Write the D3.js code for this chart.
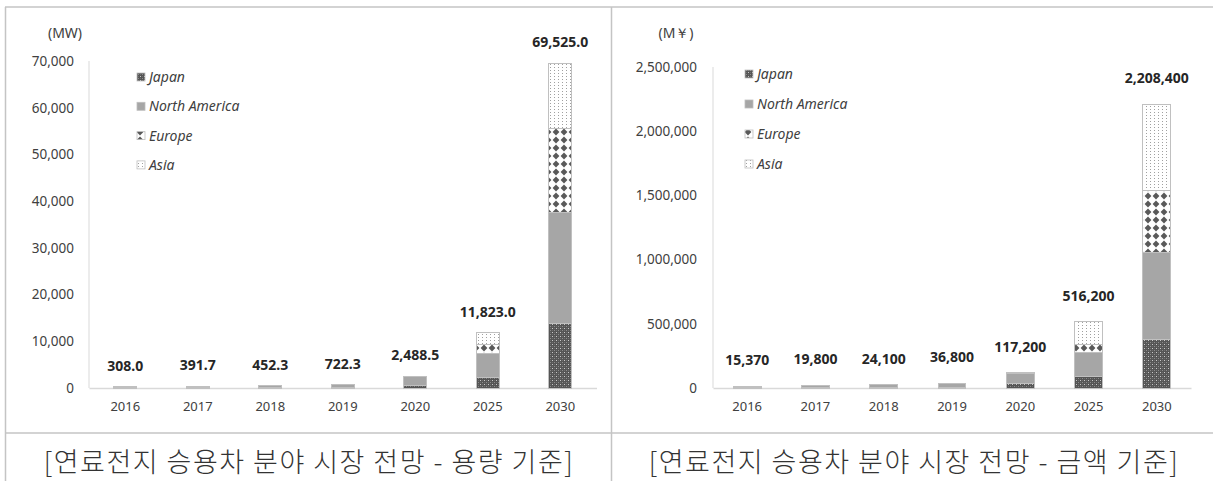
<!DOCTYPE html>
<html>
<head>
<meta charset="utf-8">
<script src="https://cdn.jsdelivr.net/npm/d3@7"></script>
<style>
  html, body { margin: 0; padding: 0; background: #fff; }
  svg { display: block; }
</style>
</head>
<body>
<svg id="chart" width="1213" height="481"></svg>
<script>
// ---------- DATA ----------
const years = ["2016", "2017", "2018", "2019", "2020", "2025", "2030"];
const seriesNames = ["Japan", "North America", "Europe", "Asia"];

// Capacity (MW)
const capJapan        = [30, 40, 50, 80, 550, 2350, 13900];
const capNorthAmerica = [278, 351.7, 402.3, 642.3, 1880, 5140, 23750];
const capEurope       = [0, 0, 0, 0, 40, 1920, 17950];
const capAsia         = [0, 0, 0, 0, 18.5, 2413, 13925];
const capTotals       = [308.0, 391.7, 452.3, 722.3, 2488.5, 11823.0, 69525.0];
const capTicks        = [0, 10000, 20000, 30000, 40000, 50000, 60000, 70000];

// Value (M¥)
const valJapan        = [1500, 2000, 2500, 4000, 36000, 93000, 381000];
const valNorthAmerica = [13870, 17800, 21600, 32800, 75000, 181000, 673000];
const valEurope       = [0, 0, 0, 0, 4000, 68000, 488000];
const valAsia         = [0, 0, 0, 0, 2200, 174200, 666400];
const valTotals       = [15370, 19800, 24100, 36800, 117200, 516200, 2208400];
const valTicks        = [0, 500000, 1000000, 1500000, 2000000, 2500000];

const captions = ["[연료전지 승용차 분야 시장 전망 - 용량 기준]", "[연료전지 승용차 분야 시장 전망 - 금액 기준]"];
const units = ["(MW)", "(M￥)"];

// ---------- DRAW ----------
const svg = d3.select("#chart");
svg.append("rect").attr("width", 1213).attr("height", 481).attr("fill", "#fff");

const defs = svg.append("defs");
// Japan: dark dotted texture
const pJ = defs.append("pattern").attr("id", "pJapan").attr("patternUnits", "userSpaceOnUse")
  .attr("width", 4).attr("height", 4);
pJ.append("rect").attr("width", 4).attr("height", 4).attr("fill", "#555");
pJ.append("rect").attr("x", 0).attr("y", 0).attr("width", 1).attr("height", 1).attr("fill", "#c8c8c8");
pJ.append("rect").attr("x", 2).attr("y", 2).attr("width", 1).attr("height", 1).attr("fill", "#8c8c8c");
pJ.append("rect").attr("x", 2).attr("y", 0).attr("width", 1).attr("height", 1).attr("fill", "#6e6e6e");
pJ.append("rect").attr("x", 0).attr("y", 2).attr("width", 1).attr("height", 1).attr("fill", "#6e6e6e");
// Europe: diamonds
const pE = defs.append("pattern").attr("id", "pEurope").attr("patternUnits", "userSpaceOnUse")
  .attr("width", 8).attr("height", 8);
pE.append("rect").attr("width", 8).attr("height", 8).attr("fill", "#fff");
pE.append("path").attr("d", "M4,0.6 L7.4,4 L4,7.4 L0.6,4 Z").attr("fill", "#595959");
// Asia: sparse dots
const pA = defs.append("pattern").attr("id", "pAsia").attr("patternUnits", "userSpaceOnUse")
  .attr("width", 4).attr("height", 3);
pA.append("rect").attr("width", 4).attr("height", 3).attr("fill", "#fff");
pA.append("rect").attr("x", 2).attr("y", 1).attr("width", 1).attr("height", 1).attr("fill", "#a0a0a0");

const fills = ["url(#pJapan)", "#a6a6a6", "url(#pEurope)", "url(#pAsia)"];
const latinFont = "'Noto Sans', 'DejaVu Sans', sans-serif";

// Frame lines
const frame = svg.append("g").attr("stroke", "#c4c4c4").attr("stroke-width", 1.5).attr("fill", "none");
frame.append("line").attr("x1", 5).attr("x2", 1213).attr("y1", 7).attr("y2", 7);
frame.append("line").attr("x1", 5.5).attr("x2", 5.5).attr("y1", 7).attr("y2", 481);
frame.append("line").attr("x1", 611.5).attr("x2", 611.5).attr("y1", 7).attr("y2", 481);
frame.append("line").attr("x1", 5).attr("x2", 1213).attr("y1", 433).attr("y2", 433);

function drawChart(cfg) {
  const g = svg.append("g");
  const x = d3.scaleBand().domain(years).range([cfg.x0, cfg.x1])
    .paddingInner(cfg.pad).paddingOuter(cfg.pad / 2);
  const y = d3.scaleLinear().domain([0, cfg.max]).range([cfg.yBottom, cfg.yTop]);

  const rows = years.map((yr, i) => {
    const o = { year: yr };
    seriesNames.forEach((s, k) => o[s] = cfg.series[k][i]);
    return o;
  });
  const stack = d3.stack().keys(seriesNames)(rows);

  // y axis (labels only, with vertical line)
  const yAxis = d3.axisLeft(y).tickValues(cfg.ticks).tickSize(0).tickPadding(0)
    .tickFormat(d3.format(","));
  const ya = g.append("g").attr("transform", `translate(${cfg.labelRight},0)`).call(yAxis);
  ya.select(".domain").remove();
  ya.selectAll("text").attr("font-family", latinFont).attr("font-size", 13.5).attr("fill", "#404040");
  g.append("line").attr("x1", cfg.x0).attr("x2", cfg.x0).attr("y1", cfg.yTop).attr("y2", cfg.yBottom)
    .attr("stroke", "#d9d9d9").attr("stroke-width", 1);

  // x axis
  const xAxis = d3.axisBottom(x).tickSize(0).tickPadding(14);
  const xa = g.append("g").attr("transform", `translate(0,${cfg.yBottom})`).call(xAxis);
  xa.select(".domain").attr("stroke", "#d9d9d9").attr("stroke-width", 1.5);
  xa.selectAll("text").attr("font-family", latinFont).attr("font-size", 13).attr("fill", "#404040");

  // bars
  stack.forEach((layer, k) => {
    g.append("g").selectAll("rect").data(layer).join("rect")
      .attr("x", d => x(d.data.year))
      .attr("width", x.bandwidth())
      .attr("y", d => y(d[1]))
      .attr("height", d => Math.max(0, y(d[0]) - y(d[1])))
      .attr("fill", fills[k])
      .attr("stroke", d => (d[1] - d[0]) > 0 ? "#c0c0c0" : "none")
      .attr("stroke-width", 1)
      .attr("shape-rendering", "crispEdges");
  });

  // value labels
  g.append("g").selectAll("text").data(cfg.totals).join("text")
    .attr("x", (d, i) => x(years[i]) + x.bandwidth() / 2)
    .attr("y", d => y(d) - cfg.labelOffset)
    .attr("text-anchor", "middle")
    .attr("font-family", latinFont).attr("font-size", 14).attr("font-weight", "bold")
    .attr("fill", "#262626")
    .text(d => cfg.fmt(d));

  // unit
  g.append("text").attr("x", cfg.unitX).attr("y", 38).attr("text-anchor", "middle")
    .attr("font-family", latinFont).attr("font-size", 14).attr("fill", "#404040").text(cfg.unit);

  // legend
  const lg = g.append("g");
  seriesNames.forEach((s, k) => {
    const cy = cfg.legendY0 + k * cfg.legendStep;
    lg.append("rect").attr("x", cfg.legendX).attr("y", cy - 4).attr("width", 8).attr("height", 8)
      .attr("fill", fills[k]).attr("stroke", "#bfbfbf").attr("stroke-width", 0.8);
    lg.append("text").attr("x", cfg.legendX + 12).attr("y", cy + 5)
      .attr("font-family", latinFont).attr("font-size", 14).attr("font-style", "italic")
      .attr("fill", "#404040").text(s);
  });

  // caption
  g.append("text").attr("x", cfg.captionX).attr("y", 472).attr("text-anchor", "middle")
    .attr("font-family", "'Noto Sans CJK KR', sans-serif").attr("font-weight", 300)
    .attr("font-size", 27).attr("letter-spacing", 1.5).attr("fill", "#333").text(cfg.caption);
}

drawChart({
  series: [capJapan, capNorthAmerica, capEurope, capAsia],
  totals: capTotals, ticks: capTicks, max: 70000,
  x0: 89, x1: 596.5, pad: 1 - 23 / 72.5,
  yTop: 61, yBottom: 388, labelRight: 74,
  labelOffset: 16, fmt: d3.format(",.1f"),
  unit: units[0], unitX: 65,
  legendX: 137, legendY0: 77, legendStep: 29.3,
  caption: captions[0], captionX: 309
});

drawChart({
  series: [valJapan, valNorthAmerica, valEurope, valAsia],
  totals: valTotals, ticks: valTicks, max: 2500000,
  x0: 713, x1: 1191, pad: 1 - 28 / 68.3,
  yTop: 67, yBottom: 388, labelRight: 697,
  labelOffset: 21, fmt: d3.format(","),
  unit: units[1], unitX: 676,
  legendX: 745, legendY0: 74, legendStep: 30,
  caption: captions[1], captionX: 914
});
</script>
</body>
</html>
